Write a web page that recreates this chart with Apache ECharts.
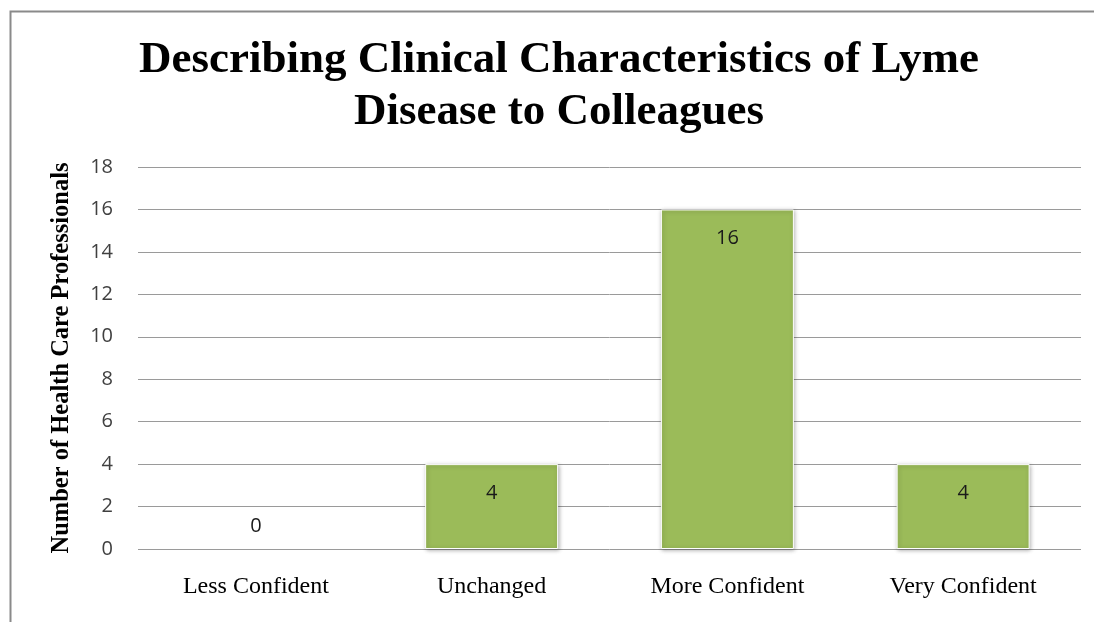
<!DOCTYPE html>
<html>
<head>
<meta charset="utf-8">
<script src="https://cdn.jsdelivr.net/npm/echarts@6/dist/echarts.min.js"></script>
<style>
html,body{margin:0;padding:0;background:#fff;}
#chart{width:1094px;height:622px;}
</style>
</head>
<body>
<div id="chart"></div>
<script>
const titleLines = ['Describing Clinical Characteristics of Lyme', 'Disease to Colleagues'];
const yAxisTitle = 'Number of Health Care Professionals';
const categories = ['Less Confident', 'Unchanged', 'More Confident', 'Very Confident'];
const values = [0, 4, 16, 4];
const yTicks = { min: 0, max: 18, interval: 2 };

const chart = echarts.init(document.getElementById('chart'), null, { renderer: 'canvas' });

const seriesData = values.map(v => v === 0 ? ({
  value: v,
  itemStyle: { shadowBlur: 0, shadowOffsetX: 0, shadowOffsetY: 0, shadowColor: 'transparent', borderWidth: 0 },
  label: { position: 'top', distance: 13 }
}) : ({
  value: v,
  label: { position: 'insideTop', distance: 19 }
}));

chart.setOption({
  animation: false,
  backgroundColor: '#ffffff',
  graphic: [
    {
      type: 'rect',
      shape: { x: 10.5, y: 11.5, width: 1200, height: 700 },
      style: { fill: 'none', stroke: '#8a8a8a', lineWidth: 2 },
      silent: true
    },
    {
      type: 'text',
      x: 559, y: 34,
      style: {
        text: titleLines.join('\n'),
        textAlign: 'center',
        textVerticalAlign: 'top',
        font: 'bold 45px "Liberation Serif"',
        lineHeight: 52,
        fill: '#000'
      }
    }
  ],
  grid: { left: 138, right: 13, top: 167, bottom: 73 },
  xAxis: {
    type: 'category',
    data: categories,
    axisLine: { show: false },
    axisTick: { show: false },
    axisLabel: {
      fontFamily: 'Liberation Serif',
      fontSize: 24,
      color: '#000',
      margin: 26
    }
  },
  yAxis: {
    type: 'value',
    min: yTicks.min,
    max: yTicks.max,
    interval: yTicks.interval,
    name: yAxisTitle,
    nameLocation: 'middle',
    nameGap: 64,
    nameTextStyle: {
      fontFamily: 'Liberation Serif',
      fontWeight: 'bold',
      fontSize: 24.5,
      color: '#000'
    },
    axisLine: { show: false },
    axisTick: { show: false },
    axisLabel: {
      fontFamily: 'Open Sans',
      fontSize: 20,
      color: '#404040',
      margin: 25
    },
    splitLine: { lineStyle: { color: '#9a9a9a', width: 1 } }
  },
  series: [{
    type: 'bar',
    data: seriesData,
    barWidth: 133,
    itemStyle: {
      color: '#9BBB59',
      borderColor: '#ffffff',
      borderWidth: 1,
      shadowColor: 'rgba(0,0,0,0.3)',
      shadowBlur: 4,
      shadowOffsetX: 1,
      shadowOffsetY: 1
    },
    label: {
      show: true,
      fontFamily: 'Open Sans',
      fontSize: 20,
      color: '#1a1a1a'
    }
  }]
});
</script>
</body>
</html>
